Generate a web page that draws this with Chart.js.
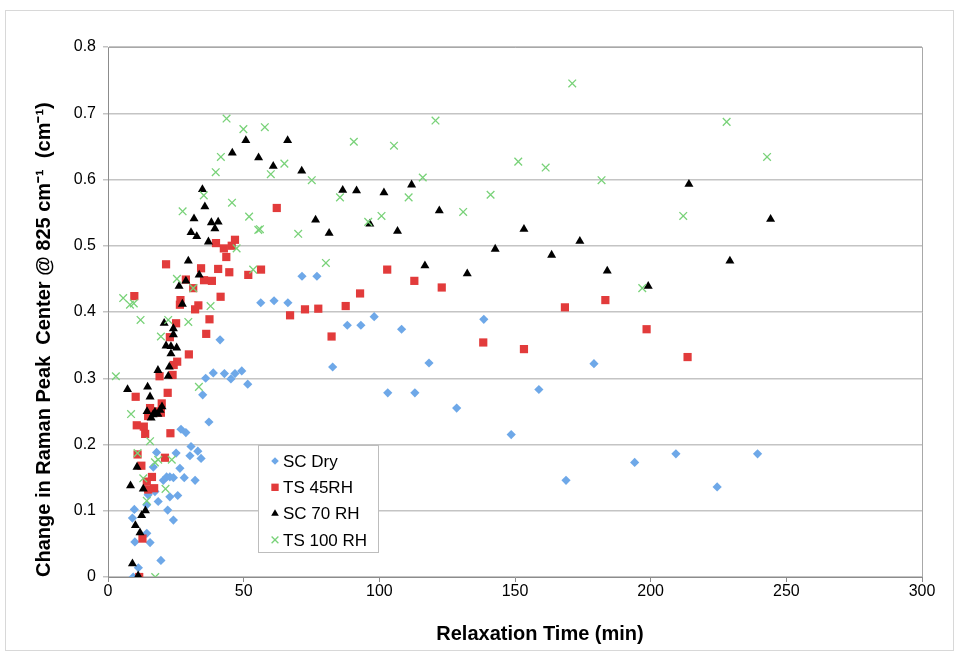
<!DOCTYPE html>
<html><head><meta charset="utf-8">
<script src="https://cdn.jsdelivr.net/npm/chart.js@4.4.1/dist/chart.umd.min.js"></script>
<style>
html,body{margin:0;padding:0;background:#fff;}
#frame{position:absolute;left:5px;top:10px;width:949px;height:641px;border:1px solid #d8d8d8;box-sizing:border-box;}
#wrap{position:absolute;left:0;top:0;width:959px;height:653px;}
</style></head><body>
<div id="frame"></div>
<div id="wrap"><canvas id="c" width="959" height="653"></canvas></div>
<script>
const FONT = "'Liberation Sans', Arial, sans-serif";

const seriesLabels = ['SC Dry', 'TS 45RH', 'SC 70 RH', 'TS 100 RH'];
const xTitle = 'Relaxation Time (min)';
const yTitle = 'Change in Raman Peak  Center @ 825 cm\u207B\u00B9  (cm\u207B\u00B9)';

const scDryX = [9.3,11.2,11.2,19.5,9.9,15.5,14.3,9.0,9.7,14.3,24.1,22.0,18.5,14.8,17.3,22.8,25.7,20.4,21.6,22.8,24.1,28.1,32.1,16.7,26.5,17.9,25.1,30.2,34.3,33.1,30.6,26.9,28.7,37.2,34.9,36.0,38.8,42.9,45.3,46.8,49.3,51.5,41.3,56.3,61.2,66.3,71.5,77.0,88.2,93.2,98.1,108.2,82.8,118.3,103.1,113.1,128.5,138.5,179.1,158.8,148.6,168.8,194.1,209.3,239.4,224.5];
const scDryY = [0.0,0.0,0.014,0.025,0.053,0.052,0.066,0.089,0.102,0.109,0.086,0.101,0.114,0.124,0.129,0.121,0.123,0.146,0.151,0.151,0.150,0.150,0.146,0.166,0.164,0.188,0.187,0.183,0.179,0.190,0.197,0.223,0.218,0.234,0.275,0.300,0.308,0.307,0.299,0.307,0.311,0.291,0.358,0.414,0.417,0.414,0.454,0.454,0.380,0.380,0.393,0.374,0.317,0.323,0.278,0.278,0.255,0.389,0.322,0.283,0.215,0.146,0.173,0.186,0.186,0.136];

const ts45X = [11.5,12.7,17.0,14.8,14.3,16.2,12.3,10.9,21.0,10.6,13.2,13.7,23.0,15.5,17.7,19.5,14.8,19.8,10.2,22.0,19.0,23.8,24.2,25.5,29.8,22.8,25.1,36.2,37.4,32.1,26.7,33.3,26.5,9.7,41.5,31.4,28.7,35.4,38.3,44.7,40.6,34.3,21.4,43.6,42.7,39.8,45.6,46.8,51.7,56.4,62.2,67.1,72.6,77.5,87.6,82.4,92.9,102.9,112.9,123.0,138.3,153.3,168.4,183.3,198.5,213.6];
const ts45Y = [0.0,0.058,0.134,0.132,0.144,0.151,0.168,0.185,0.180,0.229,0.227,0.216,0.217,0.255,0.250,0.248,0.243,0.262,0.272,0.278,0.303,0.305,0.320,0.325,0.336,0.362,0.383,0.367,0.389,0.404,0.418,0.410,0.411,0.424,0.423,0.436,0.449,0.448,0.447,0.460,0.465,0.466,0.472,0.483,0.496,0.504,0.500,0.509,0.456,0.464,0.557,0.395,0.404,0.405,0.409,0.363,0.428,0.464,0.447,0.437,0.354,0.344,0.407,0.418,0.374,0.332];

const sc70X = [11.1,9.0,11.8,10.1,12.4,13.8,13.0,8.3,10.7,14.4,15.9,17.3,18.4,19.2,19.9,16.6,15.5,14.6,7.2,22.2,18.4,22.6,23.2,21.4,23.2,25.3,24.1,24.1,20.7,27.4,26.2,28.7,33.6,29.6,37.0,32.7,30.6,39.4,38.1,40.6,31.7,35.7,34.8,45.8,50.8,55.5,66.2,60.9,71.4,86.5,91.6,101.7,111.9,122.1,76.5,81.5,96.5,106.7,116.8,132.4,142.7,153.3,163.5,173.9,184.0,199.1,214.1,229.2,244.2];
const sc70Y = [0.002,0.020,0.067,0.078,0.093,0.100,0.133,0.138,0.166,0.250,0.240,0.249,0.246,0.252,0.257,0.245,0.272,0.287,0.283,0.303,0.312,0.317,0.337,0.349,0.348,0.346,0.366,0.375,0.383,0.412,0.439,0.447,0.456,0.477,0.506,0.514,0.520,0.526,0.535,0.536,0.541,0.559,0.585,0.640,0.659,0.633,0.659,0.620,0.613,0.584,0.583,0.580,0.592,0.553,0.539,0.519,0.533,0.522,0.470,0.458,0.495,0.525,0.486,0.507,0.462,0.439,0.593,0.477,0.540];

const ts100X = [17.4,14.3,21.2,13.0,17.3,18.5,23.5,10.9,15.5,8.5,33.5,2.9,19.5,12.0,22.2,29.6,37.8,5.6,8.1,9.5,31.4,25.4,53.5,47.4,55.4,52.0,27.5,45.7,35.3,39.7,41.6,43.7,49.9,57.8,65.0,60.0,75.1,56.0,70.1,80.3,85.5,90.6,95.9,100.8,105.4,110.8,116.0,120.7,130.9,141.0,151.2,161.3,171.1,181.9,196.9,212.0,228.0,242.9];
const ts100Y = [0.0,0.115,0.133,0.149,0.173,0.177,0.177,0.187,0.205,0.246,0.287,0.303,0.363,0.388,0.388,0.385,0.409,0.421,0.411,0.413,0.436,0.450,0.464,0.496,0.524,0.544,0.552,0.565,0.576,0.611,0.634,0.692,0.676,0.679,0.624,0.608,0.599,0.525,0.518,0.474,0.573,0.657,0.536,0.545,0.651,0.573,0.603,0.689,0.551,0.577,0.627,0.618,0.745,0.599,0.436,0.545,0.687,0.634];

const xTicks = [0,50,100,150,200,250,300];
const yTicks = [0,0.1,0.2,0.3,0.4,0.5,0.6,0.7,0.8];

function pts(xs, ys){ return xs.map((x,i)=>({x:x, y:ys[i]})); }

const boxLegend = {
  id:'boxLegend',
  beforeDatasetsDraw(chart){
    const a = chart.chartArea, ctx = chart.ctx;
    ctx.save();
    ctx.strokeStyle = '#a8a8a8'; ctx.lineWidth = 1;
    ctx.beginPath();
    ctx.moveTo(a.left, a.top+0.5); ctx.lineTo(a.right+0.5, a.top+0.5); ctx.lineTo(a.right+0.5, a.bottom);
    ctx.stroke();
    ctx.restore();
  },
  afterDraw(chart){
    const ctx = chart.ctx;
    ctx.save();
    // x axis title (offset right of centre, as in the original)
    ctx.fillStyle = '#000';
    ctx.font = 'bold 20px ' + FONT;
    ctx.textAlign = 'center';
    ctx.textBaseline = 'middle';
    ctx.fillText(xTitle, 540, 634);
    // legend box
    const L = {x:258, y:445, w:120, h:107};
    ctx.fillStyle = '#fff';
    ctx.fillRect(L.x, L.y, L.w, L.h);
    ctx.strokeStyle = '#bdbdbd'; ctx.lineWidth = 1;
    ctx.strokeRect(L.x+0.5, L.y+0.5, L.w, L.h);
    chart.data.datasets.forEach((ds, i) => {
      const cy = 461 + i*26.3;
      ctx.fillStyle = ds.backgroundColor;
      ctx.strokeStyle = ds.borderColor;
      ctx.lineWidth = ds.pointBorderWidth;
      Chart.helpers.drawPoint(ctx, {pointStyle: ds.pointStyle, radius: ds.legendRadius, borderWidth: ds.pointBorderWidth, rotation: 0}, 275, cy);
      ctx.fillStyle = '#000';
      ctx.font = '17px ' + FONT;
      ctx.textBaseline = 'middle';
      ctx.textAlign = 'left';
      ctx.fillText(ds.label, 283, cy + 1);
    });
    ctx.restore();
  }
};

new Chart(document.getElementById('c'), {
  type: 'scatter',
  data: {
    datasets: [
      {label: seriesLabels[0], data: pts(scDryX, scDryY), pointStyle:'rectRot', pointRadius:4.6, legendRadius:3.8,
       backgroundColor:'#6ea8e8', borderColor:'#6ea8e8', pointBorderWidth:0, order:4},
      {label: seriesLabels[1], data: pts(ts45X, ts45Y), pointStyle:'rect', pointRadius:5.8, legendRadius:5.2,
       backgroundColor:'#e23b3b', borderColor:'#e23b3b', pointBorderWidth:0, order:3},
      {label: seriesLabels[2], data: pts(sc70X, sc70Y), pointStyle:'triangle', pointRadius:5.2, legendRadius:4.4,
       backgroundColor:'#000', borderColor:'#000', pointBorderWidth:0, order:2},
      {label: seriesLabels[3], data: pts(ts100X, ts100Y), pointStyle:'crossRot', pointRadius:5.4, legendRadius:4.8,
       backgroundColor:'#79d279', borderColor:'#79d279', pointBorderWidth:1.3, order:1}
    ]
  },
  options: {
    responsive:false, animation:false,
    layout:{padding:{left:0, top:47, right:37, bottom:0}},
    plugins:{legend:{display:false}, tooltip:{enabled:false}},
    scales:{
      x:{
        type:'linear', position:'bottom', min:0, max:300,
        afterBuildTicks(s){ s.ticks = xTicks.map(v=>({value:v})); },
        ticks:{color:'#000', font:{family:FONT, size:16}, padding:0, maxRotation:0},
        grid:{drawOnChartArea:false, drawTicks:true, tickLength:5, color:'#8c8c8c'},
        border:{display:true, color:'#8c8c8c', width:1},
        title:{display:false},
        afterFit(s){ s.height = 76; }
      },
      y:{
        type:'linear', min:0, max:0.8,
        afterBuildTicks(s){ s.ticks = yTicks.map(v=>({value:v})); },
        ticks:{color:'#000', font:{family:FONT, size:16}, padding:7},
        grid:{color:'#c4c4c4', lineWidth:1.5, drawTicks:true, tickLength:5},
        border:{display:true, color:'#8c8c8c', width:1},
        title:{display:true, align:'start', text:yTitle, color:'#000', font:{family:FONT, size:20, weight:'bold'}, padding:{top:32, bottom:0}},
        afterFit(s){ s.width = 108; }
      }
    }
  },
  plugins:[boxLegend]
});
</script>
</body></html>
